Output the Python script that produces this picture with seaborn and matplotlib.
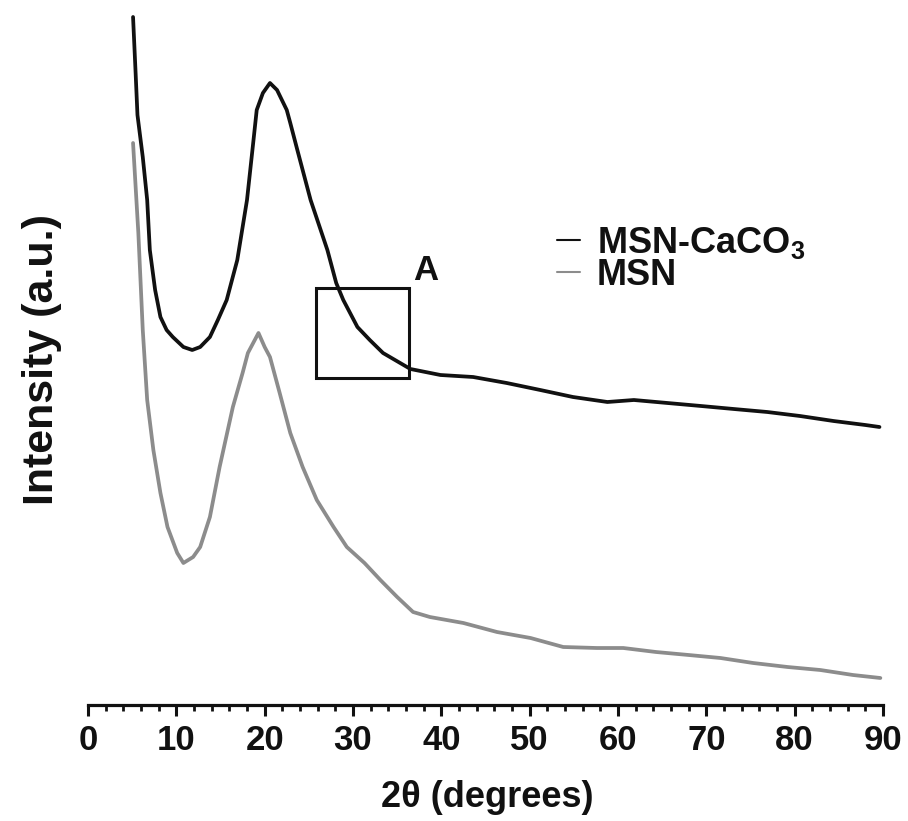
import matplotlib
matplotlib.use("Agg")
import matplotlib.pyplot as plt
import matplotlib.patches as patches
import seaborn as sns
import pandas as pd

# ---- data (2theta in degrees, intensity in a.u.) ----
two_theta_caco3 = [5.1, 5.4, 5.6, 6.2, 6.7, 7.0, 7.6, 8.2, 8.9, 9.6, 10.8, 11.8,
                   12.7, 13.8, 14.7, 15.7, 16.9, 18.0, 18.7, 19.1, 19.8, 20.6,
                   21.4, 22.5, 22.9, 23.7, 25.2, 27.1, 28.1, 28.9, 30.5, 31.9,
                   33.4, 36.5, 39.9, 43.6, 47.4, 51.2, 54.9, 58.8, 61.8, 65.6,
                   69.4, 73.1, 76.9, 80.6, 84.4, 88.0, 89.6]
intensity_caco3 = [688, 630, 590, 548, 505, 455, 415, 388, 375, 368, 358, 355,
                   358, 368, 385, 405, 445, 505, 562, 595, 612, 622,
                   615, 595, 582, 555, 505, 455, 422, 405, 378, 365,
                   352, 336, 330, 328, 322, 315, 308, 303, 305, 302,
                   299, 296, 293, 289, 284, 280, 278]

two_theta_msn = [5.1, 5.7, 6.2, 6.7, 7.4, 8.2, 9.0, 10.1, 10.8, 11.9, 12.7, 13.8,
                 14.9, 16.4, 17.5, 18.1, 19.3, 20.0, 20.6, 21.7, 22.9, 24.3,
                 25.9, 27.8, 29.3, 31.3, 33.1, 35.0, 36.8, 38.7, 42.5, 46.3,
                 50.1, 53.8, 57.6, 60.6, 64.3, 68.0, 71.6, 75.3, 79.2, 82.9,
                 86.6, 89.7]
intensity_msn = [562, 472, 375, 305, 255, 212, 178, 152, 142, 148, 158, 188,
                 238, 298, 332, 352, 372, 358, 348, 312, 272, 238,
                 205, 178, 158, 142, 125, 108, 93, 88, 82, 73,
                 67, 58, 57, 57, 53, 50, 47, 42, 38, 35,
                 30, 27]

series_labels = ["MSN-CaCO$_\\mathbf{3}$", "MSN"]
x_ticks = [0, 10, 20, 30, 40, 50, 60, 70, 80, 90]

df_caco3 = pd.DataFrame({"two_theta": two_theta_caco3, "intensity": intensity_caco3})
df_msn = pd.DataFrame({"two_theta": two_theta_msn, "intensity": intensity_msn})

sns.set_style("white")
plt.rcParams["font.family"] = ["Liberation Sans", "DejaVu Sans"]
plt.rcParams["font.weight"] = "bold"
plt.rcParams["text.color"] = "#111111"
plt.rcParams["xtick.color"] = "#111111"
plt.rcParams["axes.labelcolor"] = "#111111"
plt.rcParams["mathtext.fontset"] = "custom"
plt.rcParams["mathtext.rm"] = "Liberation Sans:bold"
plt.rcParams["mathtext.bf"] = "Liberation Sans:bold"

fig = plt.figure(figsize=(9.08, 8.21), dpi=100)
ax = fig.add_axes([88 / 908, 116 / 821, 795 / 908, 705 / 821])

sns.lineplot(data=df_caco3, x="two_theta", y="intensity", ax=ax, color="#111111",
             lw=2.7, estimator=None, sort=False, label=series_labels[0])
sns.lineplot(data=df_msn, x="two_theta", y="intensity", ax=ax, color="#8c8c8c",
             lw=2.7, estimator=None, sort=False, label=series_labels[1])

ax.set_xlim(0, 90)
ax.set_ylim(0, 705)

for s in ["left", "right", "top"]:
    ax.spines[s].set_visible(False)
ax.spines["bottom"].set_linewidth(2.3)
ax.spines["bottom"].set_color("#111111")

ax.set_yticks([])
ax.set_xticks(x_ticks)
ax.set_xticks(range(0, 91, 2), minor=True)
ax.tick_params(axis="x", which="major", direction="out", length=8, width=2.2,
               color="#111111", labelcolor="#111111", labelsize=25, pad=6, bottom=True)
ax.tick_params(axis="x", which="minor", direction="out", length=4.5, width=2.0,
               color="#111111", bottom=True)
for lab in ax.get_xticklabels():
    lab.set_fontweight("bold")

ax.set_xlabel("2θ (degrees)", fontsize=26, fontweight="bold", color="#111111")
ax.xaxis.set_label_coords(0.502, -0.106)
ax.set_ylabel("Intensity (a.u.)", fontsize=31, fontweight="bold", color="#111111")
ax.yaxis.set_label_coords(-0.033, 0.49)

# inset marker box "A"
ax.add_patch(patches.Rectangle((25.8, 327), 10.55, 90, fill=False,
                               edgecolor="#111111", lw=2.2))
ax.text(38.2, 435, "A", fontsize=25, fontweight="bold", ha="center", va="center",
        color="#111111")

leg = ax.legend(loc="upper left", bbox_to_anchor=((557 - 88) / 795, 1 - 225 / 705),
                frameon=False, fontsize=26, handlelength=0.65, handletextpad=0.45,
                labelspacing=-0.08, borderpad=0, borderaxespad=0)
for line in leg.get_lines():
    line.set_linewidth(1.5)
for t in leg.get_texts():
    t.set_fontweight("bold")
    t.set_color("#111111")

fig.savefig("out.png", dpi=100)
